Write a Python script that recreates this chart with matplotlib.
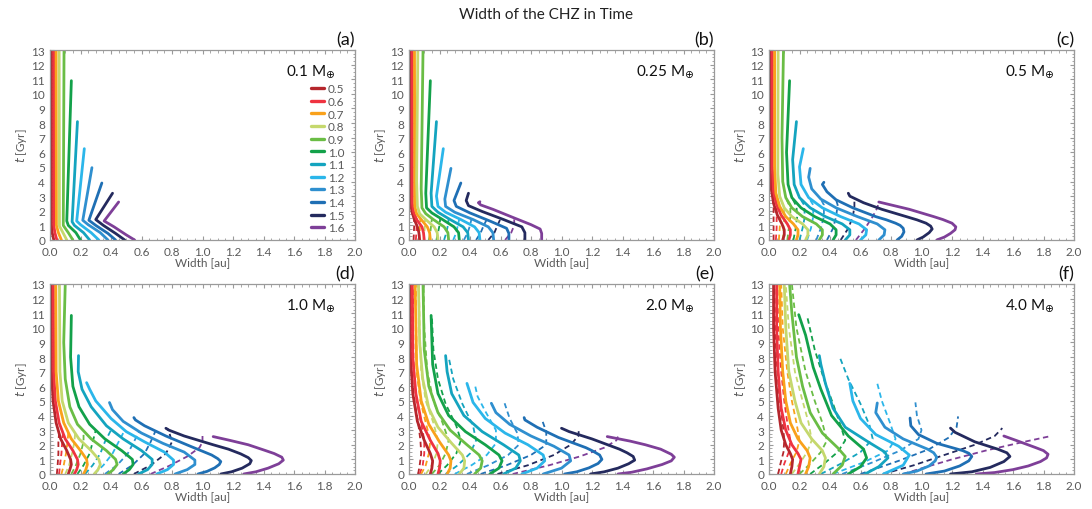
import matplotlib.pyplot as plt
from matplotlib.ticker import MultipleLocator

plt.rcParams['font.family'] = ['Lato', 'DejaVu Sans']
plt.rcParams['mathtext.fontset'] = 'dejavusans'

star_masses = ['0.5', '0.6', '0.7', '0.8', '0.9', '1.0',
               '1.1', '1.2', '1.3', '1.4', '1.5', '1.6']
colors = ['#b5262c', '#ef3340', '#f9a11b', '#c5d86d', '#6abd45', '#13a14a',
          '#14a4bf', '#2bb6ea', '#2f8fcf', '#1f6fb4', '#242a5e', '#7e3f98']
planet_masses = ['0.1', '0.25', '0.5', '1.0', '2.0', '4.0']
panel_tags = ['(a)', '(b)', '(c)', '(d)', '(e)', '(f)']

# CHZ width [au] vs time [Gyr], one list of (width, t) per stellar mass
solid_a = [
    [(0.025, 0), (0.014, 0.5), (0.010, 1.0), (0.010, 13)],
    [(0.045, 0), (0.032, 0.5), (0.025, 1.0), (0.025, 13)],
    [(0.075, 0), (0.055, 0.5), (0.042, 1.0), (0.040, 13)],
    [(0.11, 0), (0.085, 0.5), (0.062, 0.95), (0.060, 13)],
    [(0.15, 0), (0.12, 0.5), (0.087, 1.0), (0.092, 13)],
    [(0.20, 0), (0.17, 0.5), (0.12, 1.0), (0.11, 1.3), (0.14, 10.9)],
    [(0.26, 0), (0.22, 0.5), (0.16, 1.0), (0.145, 1.25), (0.18, 8.1)],
    [(0.32, 0), (0.27, 0.5), (0.20, 1.05), (0.175, 1.3), (0.225, 6.25)],
    [(0.38, 0), (0.33, 0.5), (0.25, 1.05), (0.215, 1.35), (0.275, 4.95)],
    [(0.43, 0), (0.38, 0.45), (0.30, 1.0), (0.255, 1.35), (0.34, 3.9)],
    [(0.49, 0), (0.43, 0.45), (0.35, 1.0), (0.30, 1.4), (0.41, 3.2)],
    [(0.555, 0), (0.50, 0.35), (0.42, 0.9), (0.355, 1.3), (0.45, 2.6)],
]

solid_b = [
    [(0.07, 0), (0.065, 0.5), (0.055, 0.9), (0.035, 1.4), (0.02, 1.9), (0.01, 2.5), (0.008, 13)],
    [(0.10, 0), (0.095, 0.5), (0.085, 0.9), (0.05, 1.4), (0.03, 1.9), (0.022, 2.5), (0.022, 13)],
    [(0.14, 0), (0.135, 0.5), (0.12, 0.9), (0.08, 1.4), (0.05, 1.8), (0.038, 2.3), (0.036, 13)],
    [(0.19, 0), (0.185, 0.5), (0.165, 0.9), (0.11, 1.4), (0.07, 1.8), (0.055, 2.3), (0.05, 4), (0.058, 13)],
    [(0.26, 0), (0.255, 0.5), (0.23, 0.9), (0.16, 1.4), (0.11, 1.8), (0.085, 2.2), (0.08, 3.5), (0.092, 13)],
    [(0.33, 0), (0.325, 0.5), (0.295, 0.9), (0.22, 1.4), (0.15, 1.85), (0.115, 2.2), (0.11, 3.2), (0.14, 10.9)],
    [(0.39, 0), (0.385, 0.5), (0.355, 0.9), (0.27, 1.4), (0.19, 1.9), (0.15, 2.3), (0.145, 3.2), (0.18, 8.1)],
    [(0.465, 0), (0.46, 0.5), (0.43, 0.9), (0.34, 1.4), (0.24, 1.9), (0.19, 2.3), (0.18, 3.0), (0.225, 6.25)],
    [(0.555, 0), (0.55, 0.5), (0.52, 0.9), (0.42, 1.4), (0.30, 1.9), (0.24, 2.3), (0.235, 2.8), (0.275, 4.9)],
    [(0.655, 0), (0.655, 0.45), (0.64, 0.8), (0.53, 1.3), (0.40, 1.85), (0.31, 2.3), (0.295, 2.7), (0.34, 3.9)],
    [(0.76, 0), (0.76, 0.5), (0.74, 0.9), (0.62, 1.4), (0.48, 1.95), (0.39, 2.35), (0.375, 2.7), (0.39, 3.2)],
    [(0.87, 0), (0.87, 0.45), (0.86, 0.75), (0.80, 1.05), (0.68, 1.55), (0.55, 2.1), (0.47, 2.4),
     (0.455, 2.55), (0.465, 2.62)],
]

solid_c = [
    [(0.09, 0), (0.10, 0.35), (0.10, 0.7), (0.085, 1.1), (0.055, 1.7), (0.03, 2.5), (0.015, 3.5), (0.008, 5), (0.008, 13)],
    [(0.13, 0), (0.14, 0.35), (0.14, 0.7), (0.12, 1.1), (0.08, 1.7), (0.05, 2.4), (0.03, 3.3), (0.022, 5), (0.022, 13)],
    [(0.18, 0), (0.19, 0.35), (0.19, 0.7), (0.16, 1.1), (0.11, 1.6), (0.07, 2.3), (0.045, 3.2), (0.037, 5), (0.037, 13)],
    [(0.24, 0), (0.255, 0.35), (0.255, 0.7), (0.22, 1.1), (0.15, 1.6), (0.10, 2.2), (0.07, 3.0), (0.058, 4.5), (0.06, 13)],
    [(0.33, 0), (0.35, 0.35), (0.35, 0.7), (0.31, 1.1), (0.22, 1.6), (0.15, 2.2), (0.11, 2.9), (0.09, 4), (0.085, 7), (0.095, 13)],
    [(0.42, 0), (0.44, 0.35), (0.44, 0.7), (0.40, 1.1), (0.30, 1.6), (0.21, 2.2), (0.15, 2.9), (0.125, 3.8), (0.115, 6), (0.135, 10.9)],
    [(0.50, 0), (0.53, 0.35), (0.53, 0.7), (0.48, 1.1), (0.37, 1.6), (0.27, 2.2), (0.20, 2.9), (0.165, 3.8), (0.155, 5.5), (0.18, 8.1)],
    [(0.60, 0), (0.635, 0.35), (0.64, 0.7), (0.59, 1.1), (0.47, 1.6), (0.35, 2.2), (0.26, 2.9), (0.21, 3.8), (0.20, 5.0), (0.225, 6.25)],
    [(0.72, 0), (0.755, 0.35), (0.76, 0.7), (0.71, 1.1), (0.58, 1.6), (0.44, 2.2), (0.34, 2.8), (0.28, 3.5), (0.26, 4.3), (0.27, 4.9)],
    [(0.84, 0), (0.87, 0.25), (0.885, 0.55), (0.88, 0.8), (0.86, 1.0), (0.83, 1.15), (0.77, 1.38), (0.70, 1.6),
     (0.55, 2.2), (0.44, 2.75), (0.38, 3.3), (0.35, 3.8), (0.36, 3.95)],
    [(0.97, 0), (1.01, 0.2), (1.05, 0.5), (1.07, 0.75), (1.06, 0.95), (1.03, 1.15), (0.97, 1.38), (0.90, 1.6),
     (0.74, 2.1), (0.62, 2.55), (0.53, 3.0), (0.52, 3.2)],
    [(1.10, 0), (1.15, 0.2), (1.19, 0.45), (1.22, 0.7), (1.225, 0.9), (1.20, 1.15), (1.14, 1.4), (1.08, 1.6),
     (0.92, 2.1), (0.80, 2.4), (0.72, 2.6)],
]

solid_d = [
    [(0.12, 0), (0.13, 0.3), (0.14, 0.65), (0.135, 1.0), (0.11, 1.6), (0.07, 2.4), (0.04, 3.5), (0.02, 5), (0.01, 7), (0.008, 13)],
    [(0.16, 0), (0.175, 0.3), (0.185, 0.65), (0.18, 1.0), (0.15, 1.6), (0.10, 2.4), (0.06, 3.5), (0.035, 5), (0.024, 7), (0.022, 13)],
    [(0.22, 0), (0.235, 0.3), (0.245, 0.65), (0.24, 1.0), (0.20, 1.6), (0.14, 2.4), (0.09, 3.5), (0.055, 5), (0.04, 7), (0.038, 13)],
    [(0.29, 0), (0.315, 0.3), (0.33, 0.65), (0.32, 1.0), (0.27, 1.6), (0.19, 2.4), (0.12, 3.5), (0.08, 5), (0.065, 7), (0.062, 13)],
    [(0.38, 0), (0.415, 0.3), (0.44, 0.65), (0.43, 1.0), (0.37, 1.6), (0.27, 2.4), (0.18, 3.4), (0.13, 4.6), (0.10, 6.5), (0.09, 9), (0.10, 13)],
    [(0.48, 0), (0.52, 0.3), (0.545, 0.65), (0.54, 1.0), (0.47, 1.6), (0.36, 2.4), (0.26, 3.4), (0.19, 4.6), (0.15, 6.0), (0.135, 8), (0.14, 10.85)],
    [(0.58, 0), (0.64, 0.3), (0.67, 0.65), (0.67, 1.0), (0.60, 1.6), (0.48, 2.4), (0.37, 3.3), (0.27, 4.6), (0.21, 5.8), (0.185, 7.0), (0.187, 8.1)],
    [(0.70, 0), (0.77, 0.3), (0.81, 0.65), (0.81, 0.95), (0.75, 1.5), (0.62, 2.2), (0.50, 2.9), (0.40, 3.8), (0.30, 5.0), (0.26, 5.8), (0.24, 6.25)],
    [(0.82, 0), (0.90, 0.3), (0.95, 0.65), (0.95, 0.95), (0.88, 1.5), (0.74, 2.1), (0.60, 2.8), (0.48, 3.6), (0.41, 4.4), (0.39, 4.89)],
    [(0.97, 0), (1.03, 0.18), (1.08, 0.42), (1.11, 0.65), (1.12, 0.85), (1.10, 1.05), (1.06, 1.3), (0.92, 1.9),
     (0.76, 2.6), (0.62, 3.3), (0.56, 3.7), (0.55, 3.86)],
    [(1.12, 0), (1.19, 0.15), (1.26, 0.4), (1.31, 0.7), (1.32, 0.92), (1.30, 1.12), (1.25, 1.38), (1.17, 1.7),
     (1.07, 2.0), (0.88, 2.6), (0.78, 3.0), (0.76, 3.13)],
    [(1.27, 0), (1.35, 0.15), (1.43, 0.4), (1.50, 0.7), (1.53, 0.95), (1.52, 1.15), (1.47, 1.4), (1.40, 1.65),
     (1.30, 2.0), (1.18, 2.3), (1.07, 2.56)],
]

solid_e = [
    [(0.14, 0), (0.15, 0.4), (0.155, 0.9), (0.14, 1.4), (0.10, 2.3), (0.055, 3.6), (0.025, 5.5), (0.01, 8), (0.008, 13)],
    [(0.19, 0), (0.20, 0.4), (0.205, 0.9), (0.19, 1.4), (0.14, 2.3), (0.08, 3.6), (0.045, 5.5), (0.025, 8), (0.022, 13)],
    [(0.25, 0), (0.27, 0.4), (0.275, 0.9), (0.26, 1.3), (0.20, 2.2), (0.13, 3.4), (0.08, 5), (0.05, 7.5), (0.04, 13)],
    [(0.33, 0), (0.36, 0.4), (0.365, 0.9), (0.35, 1.3), (0.28, 2.1), (0.19, 3.2), (0.13, 4.5), (0.09, 6.5), (0.07, 9), (0.062, 13)],
    [(0.43, 0), (0.47, 0.4), (0.48, 0.9), (0.46, 1.3), (0.38, 2.0), (0.27, 3.0), (0.19, 4.2), (0.13, 6), (0.10, 8.5), (0.092, 13)],
    [(0.53, 0), (0.59, 0.4), (0.61, 0.9), (0.59, 1.3), (0.50, 2.0), (0.37, 2.9), (0.26, 4.0), (0.19, 5.5), (0.155, 7.5), (0.145, 10.85)],
    [(0.62, 0), (0.70, 0.4), (0.73, 0.9), (0.72, 1.3), (0.62, 2.0), (0.48, 2.9), (0.36, 4.0), (0.28, 5.5), (0.25, 7.0), (0.24, 8.1)],
    [(0.74, 0), (0.84, 0.4), (0.89, 0.9), (0.88, 1.3), (0.78, 2.0), (0.63, 2.8), (0.50, 3.8), (0.42, 4.9), (0.38, 6.2)],
    [(0.88, 0), (1.00, 0.4), (1.06, 0.9), (1.05, 1.3), (0.95, 1.9), (0.80, 2.6), (0.66, 3.4), (0.57, 4.2), (0.54, 4.84)],
    [(1.02, 0), (1.10, 0.15), (1.18, 0.42), (1.24, 0.72), (1.265, 1.0), (1.25, 1.3), (1.20, 1.6), (1.16, 1.8),
     (0.98, 2.5), (0.84, 3.2), (0.76, 3.7), (0.755, 3.86)],
    [(1.19, 0), (1.28, 0.15), (1.37, 0.4), (1.44, 0.7), (1.48, 0.95), (1.47, 1.2), (1.43, 1.45), (1.38, 1.7),
     (1.20, 2.4), (1.05, 2.9), (1.00, 3.13)],
    [(1.37, 0), (1.46, 0.12), (1.56, 0.35), (1.66, 0.65), (1.72, 0.9), (1.74, 1.15), (1.72, 1.35), (1.65, 1.7),
     (1.55, 2.0), (1.45, 2.25), (1.30, 2.56)],
]

solid_f = [
    [(0.14, 0), (0.15, 0.5), (0.155, 1.0), (0.14, 1.4), (0.11, 2.0), (0.08, 3.0), (0.06, 4.5), (0.04, 7), (0.03, 10), (0.03, 13)],
    [(0.19, 0), (0.20, 0.5), (0.21, 1.0), (0.19, 1.4), (0.15, 2.0), (0.11, 3.0), (0.08, 4.5), (0.06, 7), (0.05, 10), (0.05, 13)],
    [(0.24, 0), (0.26, 0.5), (0.27, 1.1), (0.25, 1.6), (0.19, 2.4), (0.14, 3.5), (0.11, 5), (0.09, 7), (0.075, 10), (0.07, 13)],
    [(0.33, 0), (0.36, 0.5), (0.37, 1.1), (0.35, 1.6), (0.28, 2.4), (0.21, 3.5), (0.17, 5), (0.13, 7), (0.11, 10), (0.10, 13)],
    [(0.42, 0), (0.48, 0.6), (0.50, 1.2), (0.45, 1.8), (0.35, 2.8), (0.27, 4.2), (0.22, 6), (0.18, 8), (0.15, 11), (0.135, 13)],
    [(0.52, 0), (0.60, 0.5), (0.64, 1.1), (0.62, 1.7), (0.52, 2.6), (0.41, 4.0), (0.34, 5.8), (0.29, 7.3), (0.24, 9.5), (0.195, 10.9)],
    [(0.63, 0), (0.72, 0.5), (0.78, 1.1), (0.76, 1.5), (0.65, 2.2), (0.50, 3.2), (0.42, 4.5), (0.37, 6.2), (0.34, 7.5), (0.33, 8.1)],
    [(0.75, 0), (0.88, 0.6), (0.92, 1.3), (0.85, 1.9), (0.70, 2.7), (0.60, 3.8), (0.55, 5.0), (0.53, 6.2)],
    [(0.88, 0), (0.97, 0.2), (1.05, 0.55), (1.09, 0.9), (1.10, 1.15), (1.08, 1.45), (1.04, 1.7), (0.88, 2.4),
     (0.76, 3.2), (0.70, 4.2), (0.71, 4.86)],
    [(1.03, 0), (1.15, 0.2), (1.25, 0.55), (1.31, 0.9), (1.33, 1.2), (1.31, 1.42), (1.27, 1.6), (1.10, 2.1),
     (0.98, 2.7), (0.93, 3.3), (0.925, 3.83)],
    [(1.19, 0), (1.33, 0.15), (1.45, 0.45), (1.54, 0.85), (1.58, 1.2), (1.56, 1.45), (1.50, 1.7), (1.35, 2.2),
     (1.22, 2.85), (1.19, 3.14)],
    [(1.36, 0), (1.48, 0.1), (1.60, 0.3), (1.70, 0.55), (1.78, 0.85), (1.82, 1.1), (1.83, 1.35), (1.80, 1.6),
     (1.75, 1.8), (1.62, 2.3), (1.54, 2.6)],
]

dashed_b = [
    [(0.03, 0), (0.032, 0.5), (0.034, 1.0), (0.034, 1.5)],
    [(0.045, 0), (0.048, 0.5), (0.05, 1.0), (0.05, 1.5)],
    [(0.065, 0), (0.07, 0.5), (0.072, 1.0), (0.075, 1.45)],
    [(0.095, 0), (0.10, 0.5), (0.105, 1.0), (0.105, 1.45)],
    [(0.13, 0), (0.14, 0.5), (0.145, 1.0), (0.15, 1.45)],
    [(0.18, 0), (0.19, 0.5), (0.20, 1.0), (0.205, 1.5)],
    [(0.23, 0), (0.245, 0.5), (0.255, 1.0), (0.26, 1.45)],
    [(0.29, 0), (0.31, 0.5), (0.32, 1.0), (0.33, 1.45)],
    [(0.36, 0), (0.385, 0.5), (0.40, 1.0), (0.41, 1.45)],
    [(0.44, 0), (0.47, 0.5), (0.49, 1.0), (0.51, 1.4)],
    [(0.52, 0), (0.56, 0.5), (0.58, 1.0), (0.60, 1.45)],
    [(0.63, 0), (0.67, 0.5), (0.69, 1.0), (0.69, 1.5)],
]

dashed_c = [
    [(0.03, 0), (0.03, 0.8), (0.03, 1.7), (0.03, 2.5), (0.015, 3.5)],
    [(0.045, 0), (0.05, 0.8), (0.05, 1.7), (0.05, 2.4), (0.03, 3.3)],
    [(0.065, 0), (0.07, 0.8), (0.075, 1.6), (0.07, 2.3), (0.045, 3.2)],
    [(0.09, 0), (0.095, 0.8), (0.10, 1.6), (0.10, 2.2), (0.07, 3.0)],
    [(0.12, 0), (0.13, 0.8), (0.14, 1.6), (0.14, 2.2), (0.11, 2.9)],
    [(0.16, 0), (0.175, 0.8), (0.185, 1.6), (0.18, 2.3), (0.15, 2.9)],
    [(0.20, 0), (0.22, 0.8), (0.235, 1.6), (0.23, 2.4), (0.20, 2.9)],
    [(0.25, 0), (0.275, 0.8), (0.29, 1.6), (0.29, 2.4), (0.26, 2.9)],
    [(0.31, 0), (0.34, 0.8), (0.36, 1.6), (0.36, 2.4), (0.34, 2.8)],
    [(0.38, 0), (0.42, 0.8), (0.44, 1.6), (0.45, 2.4), (0.44, 2.75)],
    [(0.47, 0), (0.52, 0.8), (0.55, 1.6), (0.56, 2.3), (0.56, 2.8)],
    [(0.57, 0), (0.63, 0.8), (0.68, 1.6), (0.71, 2.2), (0.72, 2.6)],
]

dashed_d = [
    [(0.045, 0), (0.05, 0.6), (0.055, 1.4), (0.055, 2.2), (0.06, 2.8)],
    [(0.06, 0), (0.065, 0.6), (0.075, 1.4), (0.08, 2.2), (0.085, 2.8)],
    [(0.075, 0), (0.09, 0.6), (0.105, 1.4), (0.115, 2.2), (0.12, 2.8)],
    [(0.10, 0), (0.125, 0.6), (0.145, 1.4), (0.16, 2.2), (0.165, 2.8)],
    [(0.14, 0), (0.17, 0.6), (0.20, 1.4), (0.22, 2.2), (0.22, 2.9)],
    [(0.18, 0), (0.22, 0.6), (0.26, 1.4), (0.28, 2.2), (0.30, 3.0)],
    [(0.23, 0), (0.28, 0.6), (0.33, 1.4), (0.36, 2.2), (0.40, 3.0)],
    [(0.29, 0), (0.35, 0.6), (0.41, 1.4), (0.45, 2.2), (0.49, 3.0)],
    [(0.36, 0), (0.44, 0.6), (0.51, 1.4), (0.55, 2.2), (0.585, 2.9)],
    [(0.45, 0), (0.54, 0.6), (0.62, 1.4), (0.66, 2.2), (0.69, 2.9)],
    [(0.55, 0), (0.66, 0.6), (0.76, 1.4), (0.80, 2.2), (0.78, 2.9), (0.77, 3.1)],
    [(0.66, 0), (0.78, 0.55), (0.90, 1.2), (0.98, 1.8), (1.00, 2.2), (1.00, 2.6)],
]

dashed_e = [
    [(0.06, 0), (0.07, 0.6), (0.08, 1.4), (0.075, 2.3), (0.06, 3.5), (0.035, 5), (0.015, 7), (0.01, 13)],
    [(0.07, 0), (0.09, 0.6), (0.10, 1.4), (0.10, 2.3), (0.08, 3.5), (0.05, 5), (0.03, 7), (0.025, 13)],
    [(0.08, 0), (0.11, 0.6), (0.13, 1.4), (0.14, 2.3), (0.11, 3.5), (0.075, 5), (0.05, 7), (0.045, 13)],
    [(0.11, 0), (0.15, 0.6), (0.18, 1.4), (0.19, 2.3), (0.16, 3.5), (0.11, 5), (0.08, 7), (0.07, 10), (0.065, 13)],
    [(0.15, 0), (0.20, 0.6), (0.24, 1.4), (0.26, 2.3), (0.22, 3.5), (0.16, 5), (0.12, 7), (0.10, 10), (0.095, 13)],
    [(0.19, 0), (0.25, 0.6), (0.31, 1.4), (0.34, 2.3), (0.31, 3.3), (0.24, 4.8), (0.19, 6.5), (0.16, 8.5), (0.15, 10.8)],
    [(0.24, 0), (0.32, 0.6), (0.40, 1.4), (0.44, 2.3), (0.42, 3.3), (0.35, 4.8), (0.29, 6.5), (0.26, 8.0)],
    [(0.30, 0), (0.41, 0.6), (0.51, 1.3), (0.57, 2.1), (0.57, 3.0), (0.50, 4.3), (0.45, 5.3), (0.43, 6.2)],
    [(0.38, 0), (0.52, 0.6), (0.65, 1.3), (0.72, 2.0), (0.71, 2.8), (0.66, 3.8), (0.627, 4.84)],
    [(0.47, 0), (0.64, 0.6), (0.80, 1.3), (0.90, 2.0), (0.90, 2.9), (0.87, 3.77)],
    [(0.58, 0), (0.78, 0.6), (0.95, 1.3), (1.06, 2.0), (1.11, 2.6), (1.115, 3.13)],
    [(0.68, 0), (0.92, 0.6), (1.12, 1.2), (1.28, 1.8), (1.36, 2.3), (1.37, 2.56)],
]

dashed_f = [
    [(0.06, 0), (0.075, 0.7), (0.095, 1.5), (0.10, 2.3), (0.09, 3.5), (0.07, 5), (0.055, 7), (0.04, 10), (0.035, 13)],
    [(0.08, 0), (0.10, 0.7), (0.13, 1.5), (0.14, 2.3), (0.12, 3.5), (0.10, 5), (0.08, 7), (0.06, 10), (0.055, 13)],
    [(0.11, 0), (0.14, 0.7), (0.18, 1.5), (0.20, 2.3), (0.18, 3.5), (0.15, 5), (0.12, 7), (0.09, 10), (0.08, 13)],
    [(0.15, 0), (0.20, 0.7), (0.25, 1.5), (0.28, 2.3), (0.26, 3.5), (0.22, 5), (0.17, 7), (0.13, 10), (0.11, 13)],
    [(0.20, 0), (0.27, 0.7), (0.34, 1.5), (0.38, 2.3), (0.35, 3.5), (0.30, 5), (0.24, 7), (0.18, 10), (0.15, 13)],
    [(0.27, 0), (0.36, 0.7), (0.45, 1.5), (0.50, 2.3), (0.47, 3.3), (0.42, 4.8), (0.36, 6.5), (0.30, 8.5), (0.25, 10.8)],
    [(0.34, 0), (0.47, 0.7), (0.60, 1.5), (0.68, 2.4), (0.66, 3.3), (0.60, 4.8), (0.52, 6.5), (0.46, 8.1)],
    [(0.42, 0), (0.62, 0.8), (0.78, 1.6), (0.83, 2.4), (0.79, 3.6), (0.74, 5.0), (0.71, 6.2)],
    [(0.48, 0), (0.68, 0.8), (0.86, 1.6), (0.98, 2.4), (1.00, 3.0), (0.97, 4.0), (0.96, 4.9)],
    [(0.60, 0), (0.85, 0.9), (1.05, 1.7), (1.18, 2.5), (1.23, 3.2), (1.24, 3.94)],
    [(0.75, 0), (0.95, 0.6), (1.15, 1.3), (1.35, 2.0), (1.48, 2.6), (1.53, 3.14)],
    [(0.88, 0), (1.02, 0.45), (1.20, 1.0), (1.42, 1.6), (1.65, 2.15), (1.85, 2.6)],
]

solid_curves = [solid_a, solid_b, solid_c, solid_d, solid_e, solid_f]
dashed_curves = [None, dashed_b, dashed_c, dashed_d, dashed_e, dashed_f]

fig = plt.figure(figsize=(10.92, 5.10), dpi=100)
fig.text(0.5, 0.97, 'Width of the CHZ in Time', ha='center', va='center',
         fontsize=11, color='#222222')

col_left = [50, 409, 769]
row_top = [51, 285]
grey = '#595959'

for k in range(6):
    row, col = divmod(k, 3)
    ax = fig.add_axes([col_left[col] / 1092, 1 - (row_top[row] + 190) / 510,
                       305 / 1092, 190 / 510])

    if dashed_curves[k] is not None:
        for pts, c in zip(dashed_curves[k], colors):
            w, t = zip(*pts)
            ax.plot(w, t, color=c, lw=1.3, ls=(0, (3, 2)))
    handles = []
    for pts, c in zip(solid_curves[k], colors):
        w, t = zip(*pts)
        h, = ax.plot(w, t, color=c, lw=2.0, solid_capstyle='round',
                     solid_joinstyle='round')
        handles.append(h)

    ax.set_xlim(0, 2.0)
    ax.set_ylim(0, 13)
    ax.xaxis.set_major_locator(MultipleLocator(0.2))
    ax.xaxis.set_minor_locator(MultipleLocator(0.05))
    ax.yaxis.set_major_locator(MultipleLocator(1))
    ax.yaxis.set_minor_locator(MultipleLocator(0.25))
    ax.xaxis.set_major_formatter(plt.FuncFormatter(lambda v, p: f'{v:.1f}'))
    ax.tick_params(which='both', direction='in', top=True, right=True,
                   color='#9a9a9a', labelcolor=grey, labelsize=8.5)
    ax.tick_params(which='major', length=3, width=0.8)
    ax.tick_params(axis='x', which='major', pad=4)
    ax.tick_params(axis='y', which='major', pad=3.5)
    ax.tick_params(which='minor', length=1.8, width=0.6)
    for sp in ax.spines.values():
        sp.set_color('#9a9a9a')
        sp.set_linewidth(0.9)

    ax.set_xlabel('Width [au]', fontsize=8.5, color=grey, labelpad=0)
    ax.set_ylabel('$t$ [Gyr]', fontsize=8.5, color=grey, labelpad=2)
    ax.text(1.0, 1.055, panel_tags[k], transform=ax.transAxes, ha='right',
            va='center', fontsize=13, color='#111111')
    ax.text(0.935, 0.89, planet_masses[k] + r' M$_{\oplus}$', transform=ax.transAxes,
            ha='right', va='center', fontsize=11, color='#111111')

    if k == 0:
        leg = ax.legend(handles, star_masses, loc='upper right',
                        bbox_to_anchor=(0.965, 0.825), frameon=False, fontsize=8.5,
                        handlelength=1.1, handletextpad=0.3, labelspacing=0.14,
                        borderpad=0, borderaxespad=0, labelcolor=grey)
        for ln in leg.get_lines():
            ln.set_linewidth(2.4)

fig.savefig('out.png', dpi=100)
